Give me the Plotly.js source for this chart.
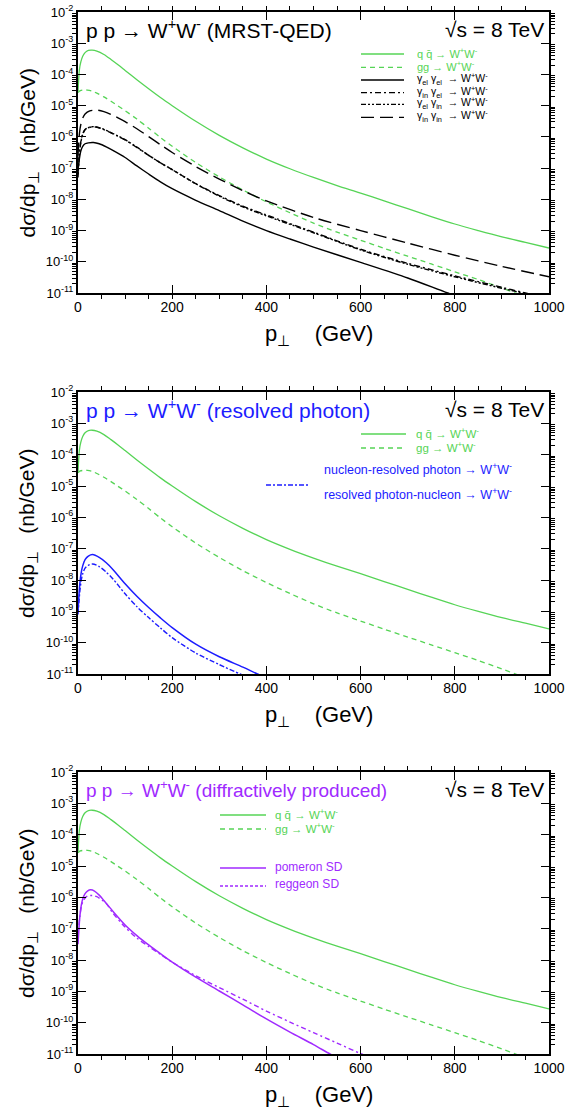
<!DOCTYPE html>
<html><head><meta charset="utf-8">
<script src="https://cdn.plot.ly/plotly-3.0.1.min.js"></script>
<style>html,body{margin:0;padding:0;background:#fff}#chart{width:567px;height:1113px}</style>
</head><body><div id="chart"></div>
<script>
// p_T (GeV) and log10(dsigma/dp_T [nb/GeV])
const ptQQ  = [0, 3, 6, 10, 15, 22, 30, 40, 55, 70, 85, 100, 125, 150, 175, 200, 250, 300, 350, 400, 450, 500, 550, 600, 650, 700, 750, 800, 850, 900, 950, 1000];
const logQQ = [-4.55, -3.85, -3.6, -3.42, -3.3, -3.23, -3.22, -3.25, -3.36, -3.52, -3.69, -3.87, -4.17, -4.46, -4.74, -5.0, -5.5, -5.95, -6.35, -6.71, -7.02, -7.3, -7.56, -7.8, -8.05, -8.3, -8.55, -8.79, -9.0, -9.2, -9.38, -9.56];

const ptGG  = [0, 5, 12, 20, 30, 40, 55, 70, 85, 100, 125, 150, 175, 200, 250, 300, 350, 400, 450, 500, 550, 600, 650, 700, 750, 800, 850, 900, 950, 1000];
const logGG = [-4.58, -4.52, -4.5, -4.5, -4.53, -4.6, -4.72, -4.86, -5.01, -5.16, -5.43, -5.72, -6.02, -6.3, -6.82, -7.28, -7.7, -8.08, -8.43, -8.76, -9.05, -9.31, -9.57, -9.82, -10.07, -10.32, -10.57, -10.84, -11.12, -11.4];

const ptInIn  = [0, 3, 6, 10, 15, 25, 40, 55, 70, 85, 100, 125, 150, 175, 200, 250, 300, 350, 400, 500, 600, 700, 800, 900, 1000];
const logInIn = [-6.6, -5.9, -5.6, -5.4, -5.27, -5.17, -5.14, -5.19, -5.28, -5.39, -5.51, -5.74, -5.99, -6.25, -6.5, -6.95, -7.35, -7.72, -8.05, -8.58, -9.0, -9.4, -9.79, -10.15, -10.48];

const ptInEl  = [0, 3, 6, 10, 15, 25, 35, 50, 70, 85, 100, 125, 150, 175, 200, 250, 300, 350, 400, 500, 600, 700, 800, 900, 950, 1000];
const logInEl = [-7.2, -6.5, -6.15, -5.9, -5.76, -5.69, -5.68, -5.74, -5.87, -5.98, -6.1, -6.34, -6.59, -6.83, -7.05, -7.5, -7.88, -8.22, -8.5, -9.05, -9.6, -10.05, -10.45, -10.82, -11.0, -11.18];
const logElIn = [-7.3, -6.55, -6.18, -5.92, -5.77, -5.69, -5.67, -5.73, -5.86, -5.97, -6.09, -6.33, -6.59, -6.83, -7.05, -7.5, -7.9, -8.24, -8.53, -9.07, -9.62, -10.08, -10.48, -10.85, -11.02, -11.2];

const ptElEl  = [0, 3, 6, 10, 15, 22, 33, 45, 60, 75, 100, 125, 150, 175, 200, 250, 300, 350, 400, 450, 500, 600, 700, 785, 850];
const logElEl = [-7.06, -6.7, -6.45, -6.3, -6.22, -6.19, -6.18, -6.22, -6.32, -6.44, -6.66, -6.93, -7.19, -7.44, -7.66, -8.03, -8.36, -8.7, -9.0, -9.27, -9.53, -10.02, -10.52, -11.0, -11.35];

const ptNRP  = [0, 2, 4, 7, 10, 15, 22, 31, 45, 60, 75, 100, 125, 150, 175, 200, 250, 300, 350, 381, 400];
const logNRP = [-9.0, -8.5, -8.1, -7.75, -7.55, -7.35, -7.24, -7.19, -7.28, -7.45, -7.68, -8.12, -8.52, -8.88, -9.21, -9.52, -10.05, -10.45, -10.78, -11.0, -11.12];

const ptRPN  = [0, 2, 4, 7, 10, 15, 22, 31, 45, 60, 75, 100, 125, 150, 175, 200, 250, 300, 344, 360];
const logRPN = [-9.1, -8.7, -8.35, -8.0, -7.8, -7.62, -7.53, -7.49, -7.57, -7.75, -7.98, -8.44, -8.85, -9.2, -9.53, -9.84, -10.33, -10.7, -11.0, -11.1];

const ptPom  = [0, 2, 4, 7, 10, 15, 20, 27, 35, 45, 55, 75, 100, 125, 150, 175, 200, 250, 300, 350, 400, 450, 500, 535, 560];
const logPom = [-7.5, -7.0, -6.6, -6.25, -6.05, -5.88, -5.8, -5.76, -5.8, -5.93, -6.1, -6.46, -6.88, -7.22, -7.52, -7.8, -8.07, -8.55, -8.99, -9.43, -9.88, -10.3, -10.7, -11.0, -11.2];

const ptReg  = [0, 2, 4, 7, 10, 15, 20, 30, 40, 50, 60, 75, 100, 125, 150, 175, 200, 250, 300, 350, 400, 450, 500, 550, 602, 620];
const logReg = [-7.3, -6.9, -6.6, -6.3, -6.15, -6.02, -5.96, -5.94, -5.98, -6.08, -6.2, -6.52, -6.95, -7.3, -7.57, -7.82, -8.07, -8.5, -8.88, -9.25, -9.63, -9.98, -10.32, -10.65, -11.0, -11.1];

const yDecades = [-11, -10, -9, -8, -7, -6, -5, -4, -3, -2];
const yTickText = ['10<sup>-11</sup>', '10<sup>-10</sup>', '10<sup>-9</sup>', '10<sup>-8</sup>', '10<sup>-7</sup>', '10<sup>-6</sup>', '10<sup>-5</sup>', '10<sup>-4</sup>', '10<sup>-3</sup>', '10<sup>-2</sup>'];

const GREEN = '#56d456', BLUE = '#1c1cff', PURPLE = '#a02aff', BLACK = '#000000';
const W = 567, H = 1113;
const FONT = 'Liberation Sans, Arial, sans-serif';
const px = x => x / W, py = y => 1 - y / H;

const lin = v => v.map(e => Math.pow(10, e));
const yTickVals = lin(yDecades);
const yMinor = [];
yDecades.slice(0, -1).forEach(d => { for (let k = 2; k <= 9; k++) yMinor.push(k * Math.pow(10, d)); });

function tr(x, logy, color, dash, ax, width) {
  return { x: x, y: lin(logy), type: 'scatter', mode: 'lines', xaxis: 'x' + ax, yaxis: 'y' + ax,
    line: { color: color, dash: dash, width: width || 1.3, shape: 'spline', smoothing: 0.8 },
    showlegend: false, hoverinfo: 'skip' };
}
const DASH_GG = '5px,4px', DASH_LONG = '13px,6px', DASH_DD1 = '6px,3px,2px,3px', DASH_DD2 = '5px,2px,2px,2px,2px,2px';

const traces = [];
// panel 1
traces.push(tr(ptQQ, logQQ, GREEN, 'solid', '', 1.3));
traces.push(tr(ptGG, logGG, GREEN, DASH_GG, '', 1.3));
traces.push(tr(ptElEl, logElEl, BLACK, 'solid', '', 1.4));
traces.push(tr(ptInEl, logInEl, BLACK, DASH_DD1, '', 1.4));
traces.push(tr(ptInEl, logElIn, BLACK, DASH_DD2, '', 1.4));
traces.push(tr(ptInIn, logInIn, BLACK, DASH_LONG, '', 1.4));
// panel 2
traces.push(tr(ptQQ, logQQ, GREEN, 'solid', '2', 1.3));
traces.push(tr(ptGG, logGG, GREEN, DASH_GG, '2', 1.3));
traces.push(tr(ptNRP, logNRP, BLUE, 'solid', '2', 1.5));
traces.push(tr(ptRPN, logRPN, BLUE, '5px,2px,2px,2px', '2', 1.4));
// panel 3
traces.push(tr(ptQQ, logQQ, GREEN, 'solid', '3', 1.3));
traces.push(tr(ptGG, logGG, GREEN, DASH_GG, '3', 1.3));
traces.push(tr(ptPom, logPom, PURPLE, 'solid', '3', 1.5));
traces.push(tr(ptReg, logReg, PURPLE, '5px,3px,2px,3px', '3', 1.4));

const panels = [ {top: 12, bottom: 293}, {top: 392, bottom: 674}, {top: 772, bottom: 1054} ];
const X0 = 78, X1 = 549;

function xaxis(i) {
  return { domain: [px(X0), px(X1)], anchor: 'y' + (i ? i + 1 : ''), range: [0, 1000], dtick: 200, tick0: 0,
    ticks: 'inside', ticklen: 8, tickwidth: 1, tickcolor: '#000', mirror: 'allticks', showline: true, linewidth: 2, linecolor: '#000',
    showgrid: false, zeroline: false, tickfont: { family: FONT, size: 14, color: '#000' },
    minor: { dtick: 50, ticklen: 4, tickcolor: '#000', tickwidth: 1, showgrid: false } };
}
function yaxis(i) {
  const p = panels[i];
  return { domain: [py(p.bottom), py(p.top)], anchor: 'x' + (i ? i + 1 : ''), type: 'log', range: [-11, -2],
    tickmode: 'array', tickvals: yTickVals, ticktext: yTickText,
    ticks: 'inside', ticklen: 8, tickwidth: 1, tickcolor: '#000', mirror: 'allticks', showline: true, linewidth: 2, linecolor: '#000',
    showgrid: false, zeroline: false, tickfont: { family: FONT, size: 13, color: '#000' },
    minor: { tickmode: 'array', tickvals: yMinor, ticklen: 4, tickcolor: '#000', tickwidth: 1, showgrid: false } };
}

const ann = [], shapes = [];
function text(x, y, t, size, color, anchor, angle) {
  ann.push({ xref: 'paper', yref: 'paper', x: px(x), y: py(y), text: t, showarrow: false,
    xanchor: anchor || 'left', yanchor: 'middle', textangle: angle || 0,
    font: { family: FONT, size: size, color: color } });
}
function sample(x0, x1, y, color, dash, width) {
  shapes.push({ type: 'line', xref: 'paper', yref: 'paper', x0: px(x0), x1: px(x1), y0: py(y), y1: py(y),
    line: { color: color, dash: dash, width: width || 1.3 } });
}
const WW = 'W<sup>+</sup>W<sup>-</sup>';
const ARR = '\u2192';
const QQ = 'q q\u0304 ' + ARR + ' ' + WW, GG = 'gg ' + ARR + ' ' + WW;
const SQRTS = '\u221As = 8 TeV';

// axis titles
panels.forEach(p => {
  text(319, p.bottom + 42, 'p<sub>\u22A5</sub>    (GeV)', 22, '#000', 'center');
  text(28, (p.top + p.bottom) / 2, 'd\u03C3/dp<sub>\u22A5</sub>   (nb/GeV)', 21, '#000', 'center', -90);
});

// panel 1
text(84, 29, 'p p ' + ARR + ' ' + WW + ' (MRST-QED)', 21, '#000');
text(546, 29, SQRTS, 21, '#000', 'right');
const L1 = [54, 67.3, 80, 92.7, 104.3, 117.3];
sample(361, 404, L1[0], GREEN, 'solid');
sample(361, 404, L1[1], GREEN, DASH_GG);
sample(361, 404, L1[2], BLACK, 'solid');
sample(361, 404, L1[3], BLACK, DASH_DD1);
sample(361, 404, L1[4], BLACK, DASH_DD2);
sample(361, 404, L1[5], BLACK, DASH_LONG);
text(415, L1[0] - 1, QQ, 11, GREEN);
text(415, L1[1] - 1, GG, 11, GREEN);
text(415, L1[2] - 1, '\u03B3<sub>el</sub> \u03B3<sub>el</sub>  ' + ARR + ' ' + WW, 10.5, BLACK);
text(415, L1[3] - 1, '\u03B3<sub>in</sub> \u03B3<sub>el</sub>  ' + ARR + ' ' + WW, 10.5, BLACK);
text(415, L1[4] - 1, '\u03B3<sub>el</sub> \u03B3<sub>in</sub>  ' + ARR + ' ' + WW, 10.5, BLACK);
text(415, L1[5] - 1, '\u03B3<sub>in</sub> \u03B3<sub>in</sub>  ' + ARR + ' ' + WW, 10.5, BLACK);

// panel 2
text(84, 409, 'p p ' + ARR + ' ' + WW + ' (resolved photon)', 21, BLUE);
text(546, 409, SQRTS, 21, '#000', 'right');
sample(361, 406, 434, GREEN, 'solid');
sample(361, 406, 448, GREEN, DASH_GG);
text(414, 433, QQ, 11.5, GREEN);
text(414, 447, GG, 11.5, GREEN);
text(322, 469, 'nucleon-resolved photon ' + ARR + ' ' + WW, 12.5, BLUE);
sample(266, 310, 485, BLUE, '5px,2px,2px,2px');
text(322, 494, 'resolved photon-nucleon ' + ARR + ' ' + WW, 12.5, BLUE);

// panel 3
text(84, 789, 'p p ' + ARR + ' ' + WW + ' (diffractively produced)', 19, PURPLE);
text(546, 789, SQRTS, 21, '#000', 'right');
sample(220, 266, 815, GREEN, 'solid');
sample(220, 266, 829, GREEN, DASH_GG);
text(273, 814, QQ, 11.5, GREEN);
text(273, 828, GG, 11.5, GREEN);
sample(220, 266, 868, PURPLE, 'solid', 1.5);
sample(220, 266, 886, PURPLE, '3px,2px', 1.4);
text(273, 867, 'pomeron SD', 12, PURPLE);
text(273, 884, 'reggeon SD', 12, PURPLE);

const layout = {
  width: W, height: H, margin: { l: 0, r: 0, t: 0, b: 0 }, paper_bgcolor: '#fff', plot_bgcolor: '#fff',
  showlegend: false,
  xaxis: xaxis(0), xaxis2: xaxis(1), xaxis3: xaxis(2),
  yaxis: yaxis(0), yaxis2: yaxis(1), yaxis3: yaxis(2),
  annotations: ann, shapes: shapes
};
Plotly.newPlot('chart', traces, layout, { staticPlot: true, displayModeBar: false });
</script></body></html>
